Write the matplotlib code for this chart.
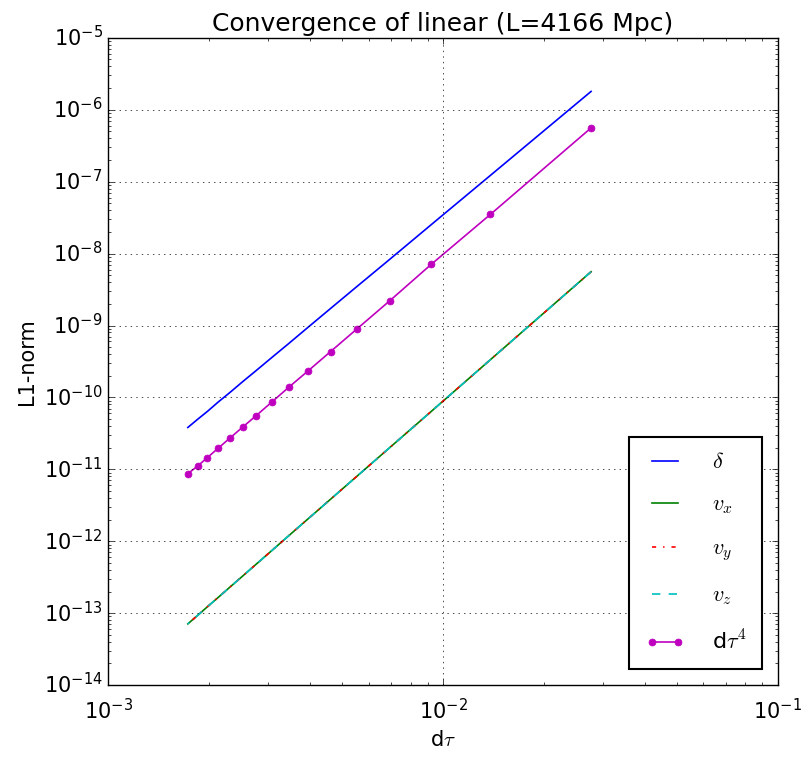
import numpy as np
import matplotlib
matplotlib.use('Agg')
import matplotlib.pyplot as plt

# time steps
dtau = [0.02770, 0.01385, 0.00923, 0.00693, 0.00554, 0.00462, 0.00396, 0.00346,
        0.00308, 0.00277, 0.00252, 0.00231, 0.00213, 0.00198, 0.00185, 0.00173]

# L1 norms
delta = [1.8e-6, 1.22e-7, 2.53e-8, 8.3e-9, 3.5e-9, 1.73e-9, 9.5e-10, 5.6e-10,
         3.58e-10, 2.37e-10, 1.65e-10, 1.17e-10, 8.6e-11, 6.4e-11, 4.96e-11, 3.82e-11]
vx = [5.6e-9, 3.34e-10, 6.4e-11, 2.0e-11, 8.05e-12, 3.85e-12, 2.06e-12, 1.19e-12,
      7.4e-13, 4.81e-13, 3.27e-13, 2.30e-13, 1.65e-13, 1.23e-13, 9.3e-14, 7.1e-14]
vy = [5.6e-9, 3.34e-10, 6.4e-11, 2.0e-11, 8.05e-12, 3.85e-12, 2.06e-12, 1.19e-12,
      7.4e-13, 4.81e-13, 3.27e-13, 2.30e-13, 1.65e-13, 1.23e-13, 9.3e-14, 7.1e-14]
vz = [5.6e-9, 3.34e-10, 6.4e-11, 2.0e-11, 8.05e-12, 3.85e-12, 2.06e-12, 1.19e-12,
      7.4e-13, 4.81e-13, 3.27e-13, 2.30e-13, 1.65e-13, 1.23e-13, 9.3e-14, 7.1e-14]
dtau4 = [5.6e-7, 3.5e-8, 7.1e-9, 2.2e-9, 9.0e-10, 4.35e-10, 2.35e-10, 1.38e-10,
         8.6e-11, 5.6e-11, 3.85e-11, 2.72e-11, 1.96e-11, 1.46e-11, 1.11e-11, 8.7e-12]

plt.style.use('classic')
plt.rcParams['mathtext.fontset'] = 'cm'
plt.rcParams['font.family'] = ['DejaVu Sans']

fig = plt.figure(figsize=(8.01, 7.57), dpi=100, facecolor='white')
ax = fig.add_axes([0.135, 0.095, 0.836, 0.855])

ax.loglog(dtau, delta, 'b-', lw=1.2, label=r'$\delta$')
ax.loglog(dtau, vx, 'g-', lw=1.2, label=r'$v_x$')
ax.loglog(dtau, vy, 'r-.', lw=1.2, label=r'$v_y$')
ax.loglog(dtau, vz, 'c--', lw=1.2, label=r'$v_z$')
ax.loglog(dtau, dtau4, 'm.-', lw=1.2, markersize=10, label=r'd$\tau^4$')

ax.set_xlim(1e-3, 1e-1)
ax.set_ylim(1e-14, 1e-5)
ax.grid(True, which='major', color='k', linestyle=':')
ax.set_title('Convergence of linear (L=4166 Mpc)', fontsize=18)
ax.set_xlabel(r'd$\tau$', fontsize=15)
ax.set_ylabel('L1-norm', fontsize=15)
ax.tick_params(labelsize=15)
ax.tick_params(axis='x', which='major', pad=9)

leg = ax.legend(loc='lower right', fontsize=16, labelspacing=1.0,
                handlelength=1.8, handletextpad=1.2, numpoints=2,
                borderpad=0.7, borderaxespad=0.72)
leg.get_frame().set_linewidth(1.5)

fig.savefig('out.png', dpi=100, facecolor='white')
